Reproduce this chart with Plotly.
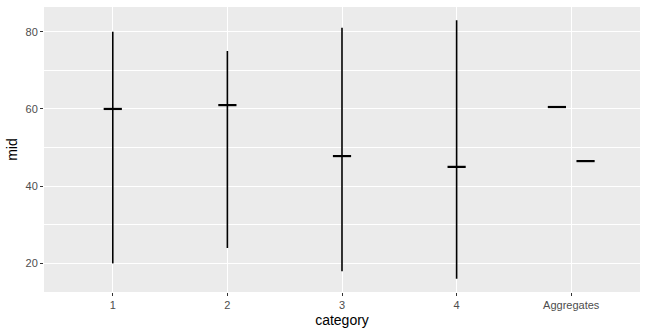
import plotly.graph_objects as go

categories = ["1", "2", "3", "4", "Aggregates"]
range_cats = ["1", "2", "3", "4"]
low = [20, 24, 18, 16]
high = [80, 75, 81, 83]
mid = [60, 61, 47.8, 45]
agg_mid = [60.5, 46.5]
agg_dodge = [-0.125, 0.125]

pos = {c: i + 1 for i, c in enumerate(categories)}

fig = go.Figure()

# vertical ranges
xs, ys = [], []
for c, lo, hi in zip(range_cats, low, high):
    xs += [pos[c], pos[c], None]
    ys += [lo, hi, None]
fig.add_trace(go.Scatter(x=xs, y=ys, mode="lines",
                         line=dict(color="black", width=1.6),
                         hoverinfo="skip", showlegend=False))

# mid markers
mx = [pos[c] for c in range_cats] + [pos["Aggregates"] + d for d in agg_dodge]
my = mid + agg_mid
fig.add_trace(go.Scatter(x=mx, y=my, mode="markers",
                         marker=dict(symbol="line-ew", size=13,
                                     line=dict(color="black", width=2.2)),
                         showlegend=False))

font = "Liberation Sans, Arial, sans-serif"
fig.update_layout(
    width=648, height=335,
    margin=dict(l=44, r=8, t=7, b=43),
    paper_bgcolor="white",
    plot_bgcolor="#ebebeb",
    font=dict(family=font),
    xaxis=dict(
        range=[0.4, 5.6],
        tickmode="array",
        tickvals=[pos[c] for c in categories],
        ticktext=categories,
        showgrid=True, gridcolor="white", gridwidth=1.1,
        zeroline=False,
        ticks="outside", ticklen=3, tickcolor="#333333", tickwidth=1,
        tickfont=dict(size=11, color="#4d4d4d", family=font),
        title=dict(text="category", font=dict(size=14, color="black", family=font), standoff=4),
        showline=False,
    ),
    yaxis=dict(
        range=[12.6, 86.4],
        tickmode="linear", tick0=0, dtick=20,
        showgrid=True, gridcolor="white", gridwidth=1.1,
        zeroline=False,
        ticks="outside", ticklen=3, tickcolor="#333333", tickwidth=1,
        tickfont=dict(size=11, color="#4d4d4d", family=font),
        title=dict(text="mid", font=dict(size=14, color="black", family=font), standoff=4),
        minor=dict(tick0=0, dtick=10, showgrid=True, gridcolor="white", gridwidth=0.5, ticks=""),
        showline=False,
    ),
)

fig.write_html("out.html")
